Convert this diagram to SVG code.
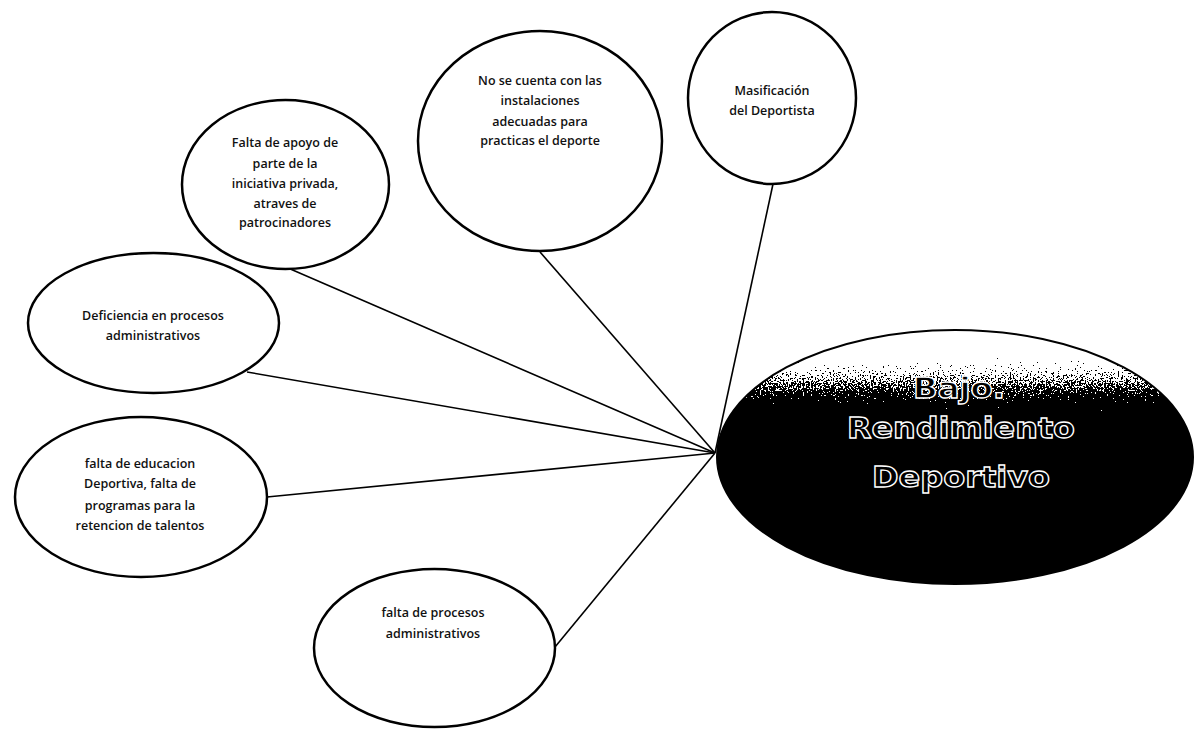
<svg xmlns="http://www.w3.org/2000/svg" width="1195" height="729" viewBox="0 0 1195 729">
<style>
.node{fill:#fff;stroke:#000;stroke-width:2.5}
.lbl{font-family:"Open Sans","Liberation Sans",Arial,sans-serif;font-weight:600;font-size:12.5px;fill:#111;text-anchor:middle}
.conn{stroke:#000;stroke-width:1.6;fill:none}
.big{font-family:"DejaVu Sans","Liberation Sans",Arial,sans-serif;font-weight:bold;font-size:29px;fill:#000;stroke:#fff;stroke-width:1.3;text-anchor:middle}
</style>
<defs>
<linearGradient id="g" x1="0" y1="0" x2="0" y2="1">
<stop offset="0" stop-color="#fff"/>
<stop offset="0.1" stop-color="#f0f0f0"/>
<stop offset="0.2" stop-color="#888"/>
<stop offset="0.3" stop-color="#222"/>
<stop offset="0.38" stop-color="#000"/>
<stop offset="1" stop-color="#000"/>
</linearGradient>
<filter id="speckle" x="0" y="0" width="1" height="1" color-interpolation-filters="sRGB">
<feTurbulence type="fractalNoise" baseFrequency="0.6" numOctaves="3" seed="4" result="n"/>
<feColorMatrix in="n" type="matrix" values="1 0 0 0 0  1 0 0 0 0  1 0 0 0 0  0 0 0 0 1" result="ng"/>
<feComposite in="SourceGraphic" in2="ng" operator="arithmetic" k1="0" k2="1" k3="1.1" k4="-0.55" result="m"/>
<feComponentTransfer in="m" result="t">
<feFuncR type="discrete" tableValues="0 1"/>
<feFuncG type="discrete" tableValues="0 1"/>
<feFuncB type="discrete" tableValues="0 1"/>
</feComponentTransfer>
<feComposite in="t" in2="SourceAlpha" operator="in"/>
</filter>
</defs>
<rect width="1195" height="729" fill="#fff"/>
<g id="connectors">
<line class="conn" x1="773" y1="184" x2="715" y2="453"/>
<line class="conn" x1="540" y1="252" x2="715" y2="453"/>
<line class="conn" x1="288" y1="268" x2="715" y2="453"/>
<line class="conn" x1="247" y1="372" x2="715" y2="453"/>
<line class="conn" x1="267" y1="497" x2="715" y2="453"/>
<line class="conn" x1="555" y1="647" x2="715" y2="453"/>
</g>
<g id="masificacion">
<ellipse class="node" cx="772" cy="98" rx="84" ry="86"/>
<text class="lbl" x="772" y="95">Masificación</text>
<text class="lbl" x="772" y="115">del Deportista</text>
</g>
<g id="instalaciones">
<ellipse class="node" cx="540" cy="141" rx="122" ry="110"/>
<text class="lbl" x="540" y="85">No se cuenta con las</text>
<text class="lbl" x="540" y="105">instalaciones</text>
<text class="lbl" x="540" y="126">adecuadas para</text>
<text class="lbl" x="540" y="145">practicas el deporte</text>
</g>
<g id="apoyo">
<ellipse class="node" cx="285.5" cy="184.5" rx="103.5" ry="84.5"/>
<text class="lbl" x="285" y="147">Falta de apoyo de</text>
<text class="lbl" x="285" y="168">parte de la</text>
<text class="lbl" x="285" y="188">iniciativa privada,</text>
<text class="lbl" x="285" y="208">atraves de</text>
<text class="lbl" x="285" y="227">patrocinadores</text>
</g>
<g id="deficiencia">
<ellipse class="node" cx="153.5" cy="323" rx="125.5" ry="70"/>
<text class="lbl" x="153" y="320">Deficiencia en procesos</text>
<text class="lbl" x="153" y="340">administrativos</text>
</g>
<g id="educacion">
<ellipse class="node" cx="141" cy="497" rx="126" ry="80"/>
<text class="lbl" x="140" y="468">falta de educacion</text>
<text class="lbl" x="140" y="488">Deportiva, falta de</text>
<text class="lbl" x="140" y="510">programas para la</text>
<text class="lbl" x="140" y="530">retencion de talentos</text>
</g>
<g id="procesos">
<ellipse class="node" cx="434.5" cy="648" rx="120.5" ry="79"/>
<text class="lbl" x="433" y="617">falta de procesos</text>
<text class="lbl" x="433" y="638">administrativos</text>
</g>
<g id="bajo-rendimiento">
<ellipse cx="955" cy="457" rx="238" ry="127" fill="url(#g)" filter="url(#speckle)"/>
<ellipse cx="955" cy="457" rx="238" ry="127" fill="none" stroke="#000" stroke-width="2"/>
<text class="big" x="959" y="398" textLength="92" lengthAdjust="spacingAndGlyphs">Bajo.</text>
<text class="big" x="961" y="438" textLength="228" lengthAdjust="spacingAndGlyphs">Rendimiento</text>
<text class="big" x="961" y="487" textLength="178" lengthAdjust="spacingAndGlyphs">Deportivo</text>
</g>
</svg>
